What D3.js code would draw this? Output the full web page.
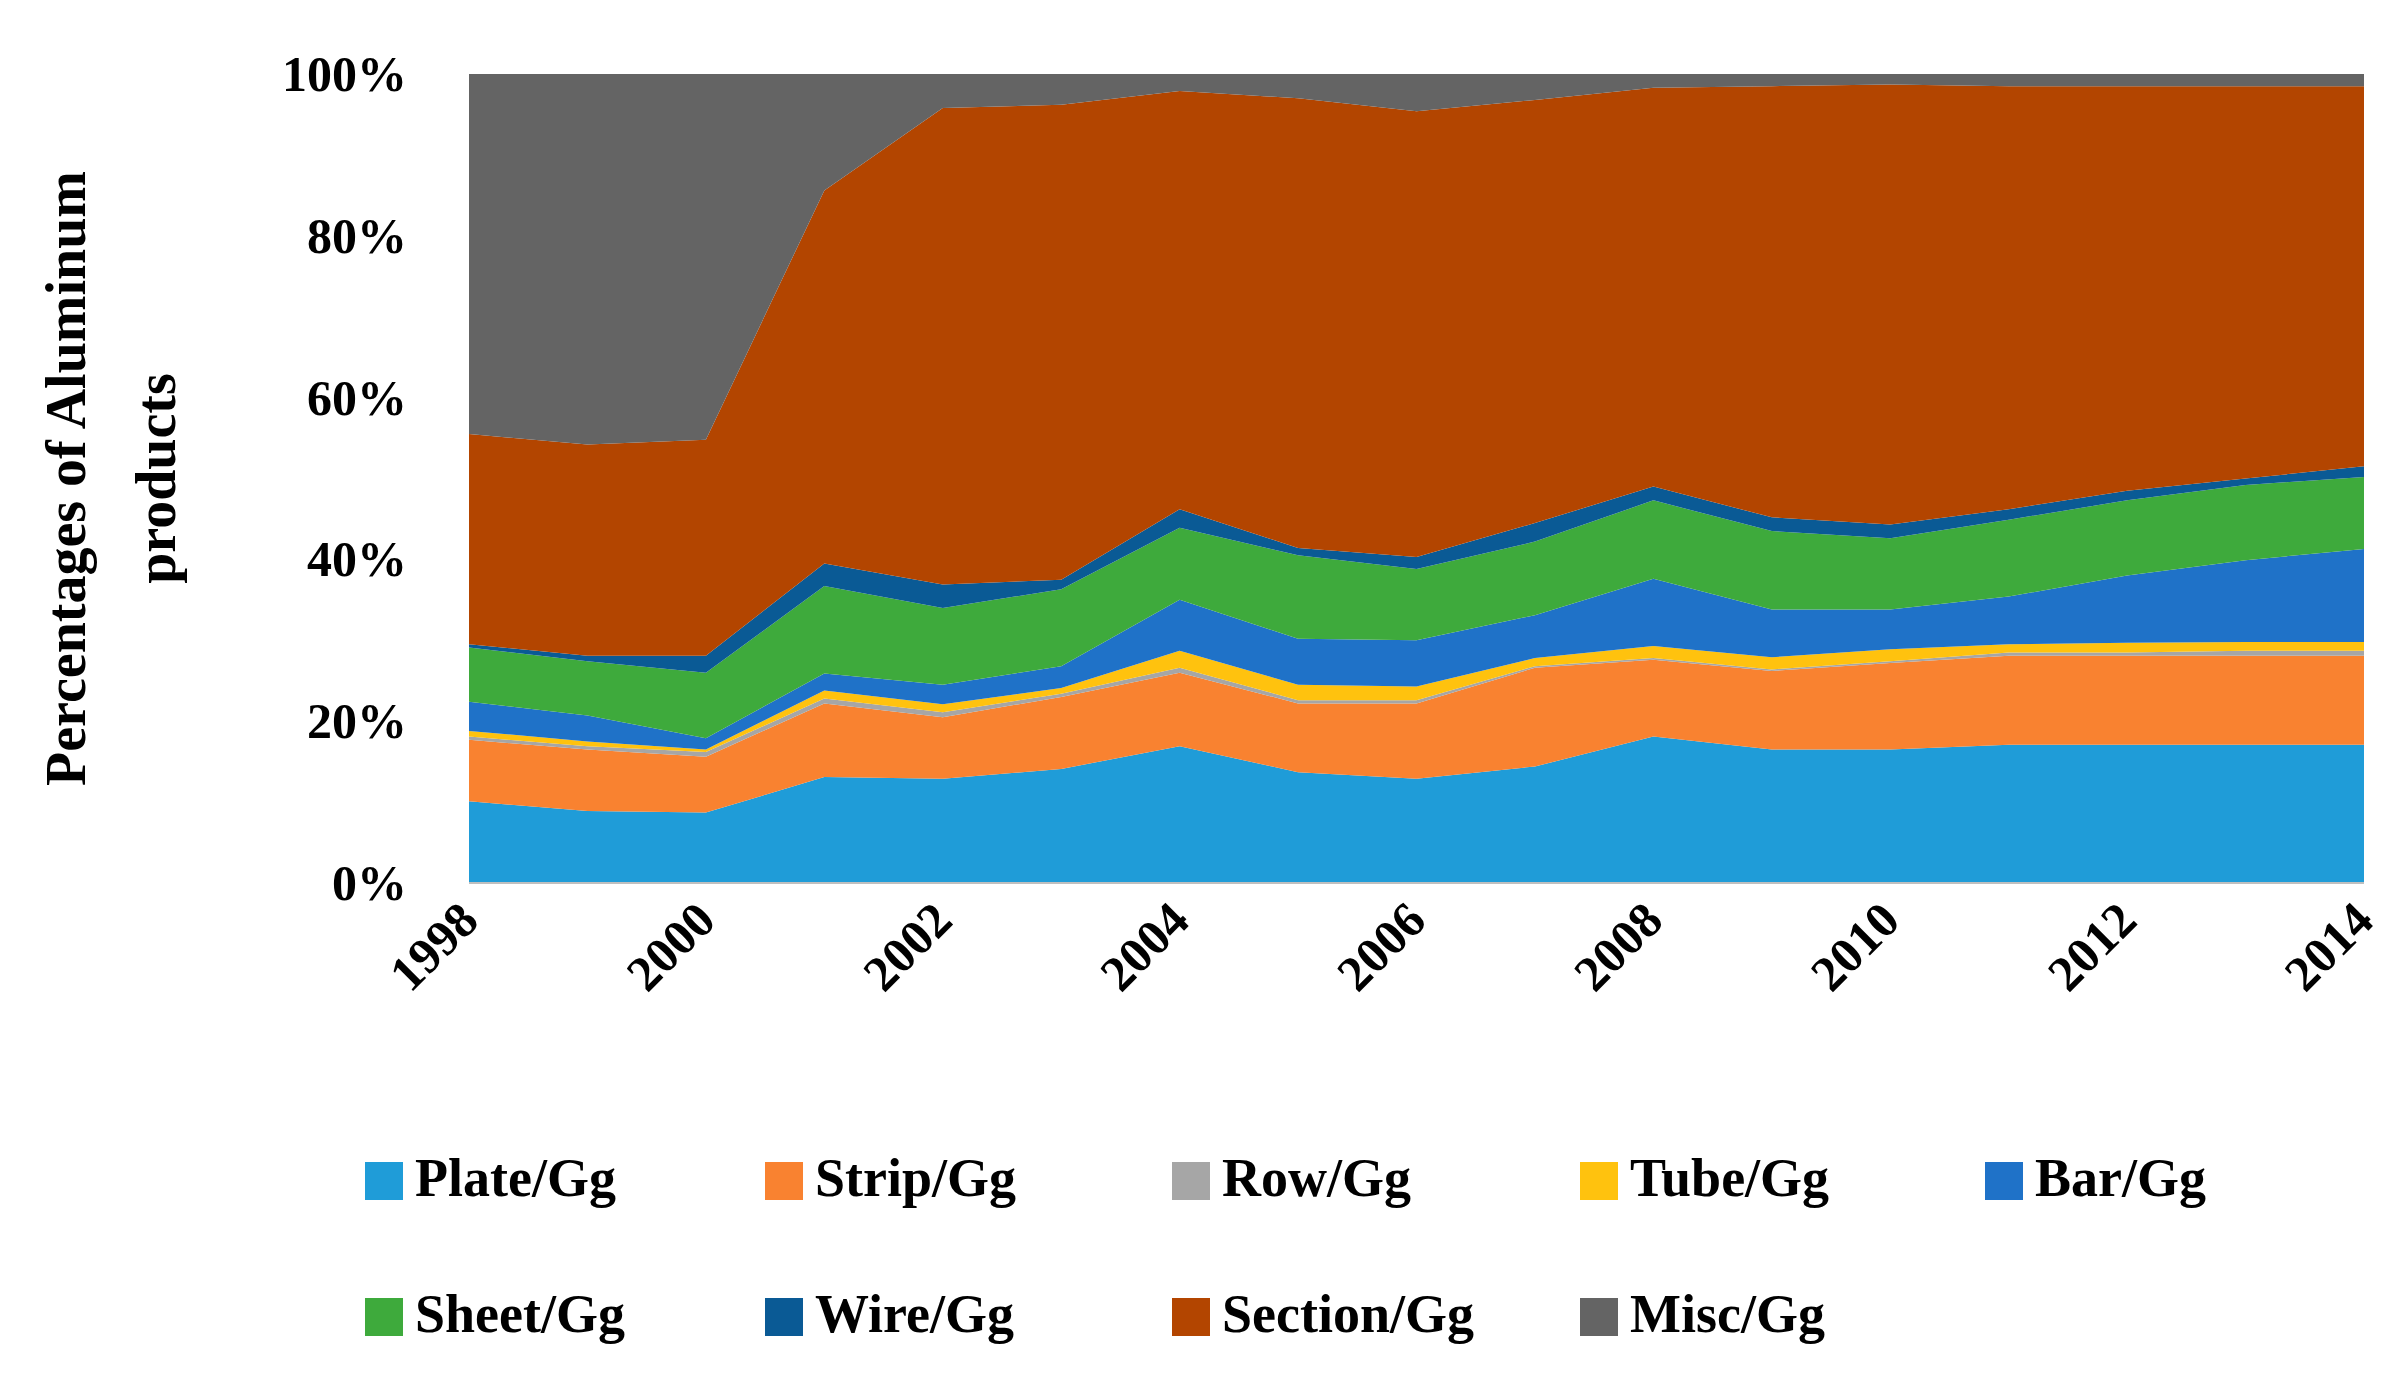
<!DOCTYPE html>
<html><head><meta charset="utf-8">
<script src="https://cdn.jsdelivr.net/npm/d3@7"></script>
<style>body{margin:0;background:#fff}</style>
</head><body><svg id="chart" width="2400" height="1379"></svg>
<script>
var years = [1998,1999,2000,2001,2002,2003,2004,2005,2006,2007,2008,2009,2010,2011,2012,2013,2014];
var seriesNames = ['Plate/Gg','Strip/Gg','Row/Gg','Tube/Gg','Bar/Gg','Sheet/Gg','Wire/Gg','Section/Gg','Misc/Gg'];
var seriesColors = ['#1f9cd8','#f98230','#a6a6a6','#ffc20e','#1f72c8','#3eaa3c','#0a5a95','#b34500','#646464'];
var plate = [10.1,8.9,8.7,13.1,12.9,14.1,16.9,13.7,12.9,14.4,18.1,16.5,16.5,17.1,17.1,17.1,17.1];
var strip = [7.6,7.6,6.9,9.1,7.6,8.9,9.1,8.5,9.3,12.2,9.5,9.7,10.7,11.0,11.0,11.0,11.0];
var row = [0.4,0.4,0.6,0.6,0.6,0.4,0.6,0.4,0.4,0.2,0.2,0.2,0.2,0.4,0.4,0.6,0.6];
var tube = [0.7,0.6,0.3,1.0,1.0,0.7,2.1,1.9,1.7,1.0,1.5,1.5,1.5,1.0,1.2,1.1,1.1];
var bar = [3.6,3.2,1.4,2.1,2.4,2.7,6.3,5.7,5.7,5.3,8.3,5.9,4.9,5.9,8.3,10.1,11.5];
var sheet = [6.7,6.7,8.1,10.8,9.5,9.5,8.9,10.3,8.8,9.1,9.7,9.7,8.8,9.5,9.3,9.3,8.9];
var wire = [0.4,0.7,2.1,2.8,2.9,1.2,2.3,0.9,1.5,2.3,1.7,1.7,1.7,1.3,1.2,0.8,1.3];
var section = [26.0,26.1,26.7,46.1,58.9,58.7,51.7,55.6,55.1,52.3,49.3,53.3,54.4,52.3,50.0,48.5,47.0];
var misc = [44.5,45.8,45.2,14.4,4.2,3.8,2.1,3.0,4.6,3.2,1.7,1.5,1.3,1.5,1.5,1.5,1.5];
var xTicks = [1998,2000,2002,2004,2006,2008,2010,2012,2014];
var yTicks = [0,0.2,0.4,0.6,0.8,1];

var allSeries = [plate,strip,row,tube,bar,sheet,wire,section,misc];
var rows = years.map(function(y, i) {
  var r = {year: y};
  seriesNames.forEach(function(n, k) { r[n] = allSeries[k][i]; });
  return r;
});

var FONT = '"Liberation Serif", "DejaVu Serif", serif';
var svg = d3.select('#chart');
var L = 469, R = 2364, T = 74, B = 883;
var x = d3.scaleLinear().domain([1998, 2014]).range([L, R]);
var y = d3.scaleLinear().domain([0, 1]).range([B, T]);

var stack = d3.stack().keys(seriesNames).offset(d3.stackOffsetExpand);
var layers = stack(rows);
var area = d3.area()
  .x(function(d) { return x(d.data.year); })
  .y0(function(d) { return y(d[0]); })
  .y1(function(d) { return y(d[1]); });

svg.selectAll('path.layer').data(layers).enter().append('path')
  .attr('class', 'layer')
  .attr('d', area)
  .attr('fill', function(d, i) { return seriesColors[i]; });

svg.append('line').attr('x1', L).attr('x2', R).attr('y1', B).attr('y2', B)
  .attr('stroke', '#bfbfbf').attr('stroke-width', 2);

svg.selectAll('text.yt').data(yTicks).enter().append('text')
  .attr('x', L - 62).attr('y', function(d) { return y(d) + 17; })
  .attr('text-anchor', 'end')
  .style('font', 'bold 50px ' + FONT)
  .text(function(d) { return Math.round(d * 100) + '%'; });

svg.selectAll('text.xt').data(xTicks).enter().append('text')
  .attr('transform', function(d) { return 'translate(' + (x(d) + 12) + ',' + (B + 40) + ') rotate(-45)'; })
  .attr('text-anchor', 'end')
  .style('font', 'bold 50px ' + FONT)
  .text(function(d) { return d; });

var yl = svg.append('text').attr('transform', 'translate(85,' + ((T + B) / 2) + ') rotate(-90)')
  .attr('text-anchor', 'middle').style('font', 'bold 56px ' + FONT);
yl.append('tspan').attr('x', 0).attr('dy', 0).text('Percentages of Aluminum');
yl.append('tspan').attr('x', 0).attr('dy', 90).text('products');

var legX = [365, 765, 1172, 1580, 1985];
var legend = svg.selectAll('g.leg').data(seriesNames).enter().append('g')
  .attr('transform', function(d, i) {
    return 'translate(' + legX[i % 5] + ',' + (i < 5 ? 1162 : 1298) + ')';
  });
legend.append('rect').attr('width', 38).attr('height', 38)
  .attr('fill', function(d, i) { return seriesColors[i]; });
legend.append('text').attr('x', 50).attr('y', 34)
  .style('font', 'bold 54px ' + FONT)
  .text(function(d) { return d; });
</script></body></html>
